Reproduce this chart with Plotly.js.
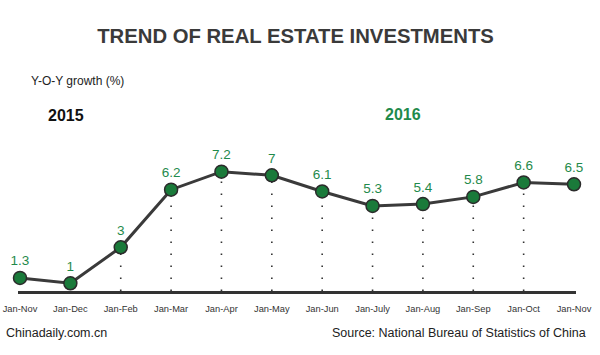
<!DOCTYPE html>
<html>
<head>
<meta charset="utf-8">
<script src="https://cdn.plot.ly/plotly-3.0.1.min.js"></script>
<style>html,body{margin:0;padding:0;background:#fff;}#chart{width:600px;height:355px;}</style>
</head>
<body>
<div id="chart"></div>
<script>
// ---- data ----
var periods = ["Jan-Nov","Jan-Dec","Jan-Feb","Jan-Mar","Jan-Apr","Jan-May","Jan-Jun","Jan-July","Jan-Aug","Jan-Sep","Jan-Oct","Jan-Nov"];
var growth = [1.3, 1, 3, 6.2, 7.2, 7, 6.1, 5.3, 5.4, 5.8, 6.6, 6.5];
var valueLabels = ["1.3","1","3","6.2","7.2","7","6.1","5.3","5.4","5.8","6.6","6.5"];
var titleText = "TREND OF REAL ESTATE INVESTMENTS";
var unitText = "Y-O-Y growth (%)";
var yearLabels = ["2015", "2016"];
var footerLeft = "Chinadaily.com.cn";
var footerRight = "Source: National Bureau of Statistics of China";

// ---- layout geometry ----
var W = 600, H = 355;
var L = 18, R = 24, T = 100, B = 64;
var plotW = W - L - R, plotH = H - T - B;
var yMin = 0.572, yMax = 11.183;
function px(x){ return (x - L) / plotW; }
function py(y){ return (H - B - y) / plotH; }

var FONT = "Liberation Sans, Arial, Helvetica, sans-serif";
var GREEN = "#1f8a4b";

var xs = periods.map(function(_, i){ return i; });

var shapes = [];
for (var i = 2; i < growth.length - 1; i++) {
  shapes.push({
    type: "line", xref: "x", yref: "y", layer: "below",
    x0: xs[i], x1: xs[i], y0: yMin, y1: growth[i],
    line: {color: "#333333", width: 1.6, dash: "1.6px,10.4px"}
  });
}

var trace = {
  x: xs, y: growth, type: "scatter", mode: "lines+markers+text",
  text: valueLabels, textposition: "top center",
  textfont: {family: FONT, size: 13.5, color: GREEN},
  line: {color: "#3a3a3a", width: 3},
  marker: {size: 13, color: "#1a7a3a", line: {color: "#2b2b2b", width: 1.5}},
  cliponaxis: false, hoverinfo: "none"
};

var annotations = [
  {text: unitText, xref: "paper", yref: "paper", x: px(29), y: py(81), xanchor: "left", yanchor: "middle", showarrow: false, font: {family: FONT, size: 12, color: "#222"}},
  {text: "<b>" + yearLabels[0] + "</b>", xref: "paper", yref: "paper", x: px(65.5), y: py(115), xanchor: "center", yanchor: "middle", showarrow: false, font: {family: FONT, size: 16, color: "#111"}},
  {text: "<b>" + yearLabels[1] + "</b>", xref: "paper", yref: "paper", x: px(402.5), y: py(114), xanchor: "center", yanchor: "middle", showarrow: false, font: {family: FONT, size: 16, color: GREEN}},
  {text: footerLeft, xref: "paper", yref: "paper", x: px(4), y: py(333), xanchor: "left", yanchor: "middle", showarrow: false, font: {family: FONT, size: 12.5, color: "#222"}},
  {text: footerRight, xref: "paper", yref: "paper", x: px(588), y: py(333), xanchor: "right", yanchor: "middle", showarrow: false, font: {family: FONT, size: 12.5, color: "#222"}}
];

var layout = {
  width: W, height: H,
  margin: {l: L, r: R, t: T, b: B, pad: 0},
  paper_bgcolor: "#ffffff", plot_bgcolor: "#ffffff",
  showlegend: false,
  title: {text: "<b>" + titleText + "</b>", x: 295.5 / W, xref: "container", xanchor: "center", y: 1 - 36 / H, yref: "container", yanchor: "middle", font: {family: FONT, size: 20.3, color: "#3a3a3a"}},
  xaxis: {
    range: [-2 / 50.36, 11 + 2 / 50.36], tickmode: "array", tickvals: xs, ticktext: periods,
    showgrid: false, zeroline: false, showline: true, linecolor: "#333333", linewidth: 3,
    ticks: "outside", ticklen: 7, tickcolor: "rgba(0,0,0,0)",
    tickfont: {family: FONT, size: 9.3, color: "#333"}, fixedrange: true
  },
  yaxis: {range: [yMin, yMax], visible: false, showgrid: false, zeroline: false, fixedrange: true},
  shapes: shapes,
  annotations: annotations
};

Plotly.newPlot("chart", [trace], layout, {displayModeBar: false, staticPlot: true});
</script>
</body>
</html>
